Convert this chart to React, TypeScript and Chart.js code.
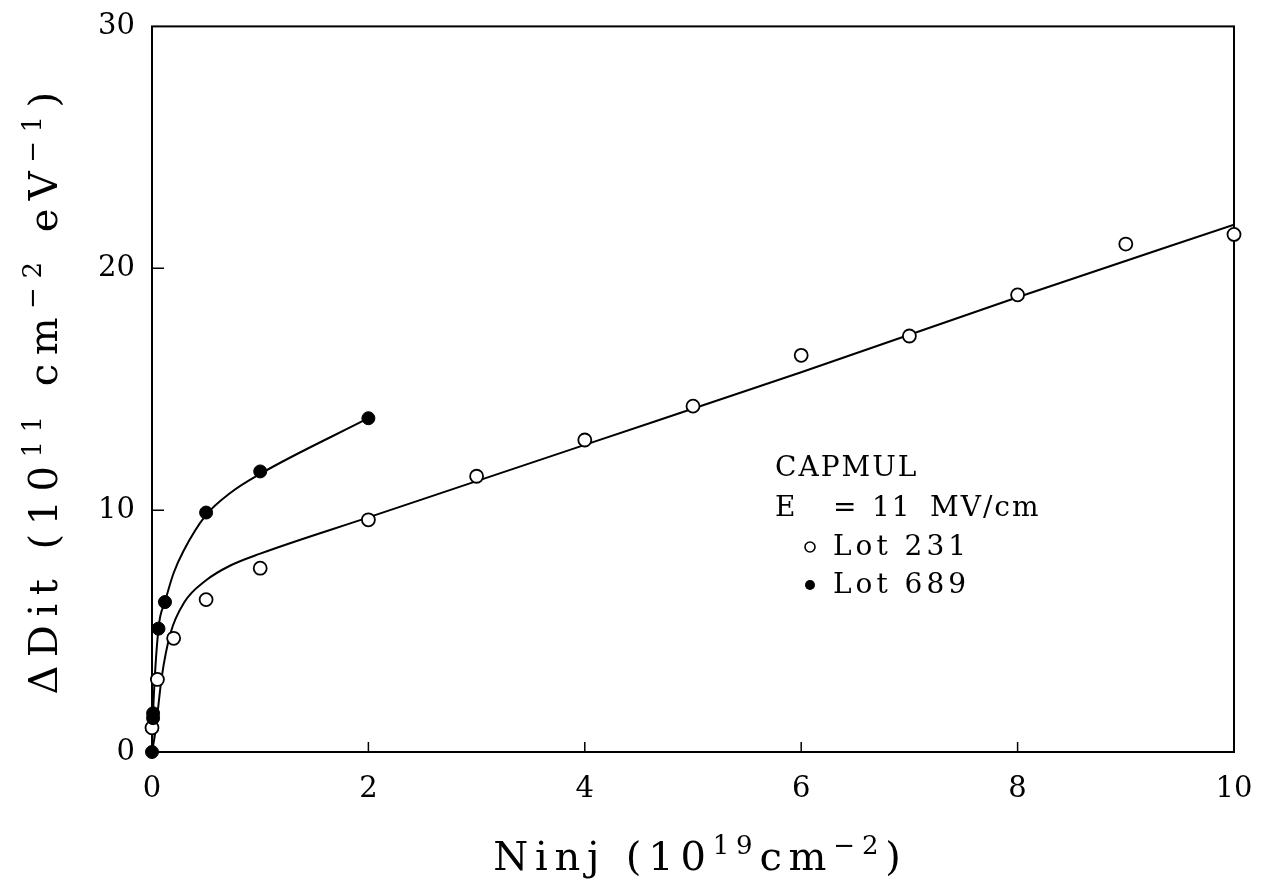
import React, { useEffect, useRef } from "react";
import { Chart, registerables } from "chart.js";

Chart.register(...registerables);

// ---- data ----
const lot231X = [0, 0.05, 0.2, 0.5, 1.0, 2, 3, 4, 5, 6, 7, 8, 9, 10];
const lot231Y = [1.0, 3.0, 4.7, 6.3, 7.6, 9.6, 11.4, 12.9, 14.3, 16.4, 17.2, 18.9, 21.0, 21.4];

const lot689X = [0, 0.01, 0.01, 0.06, 0.12, 0.5, 1.0, 2.0];
const lot689Y = [0, 1.4, 1.6, 5.1, 6.2, 9.9, 11.6, 13.8];

// fitted curves
const fit231X = [0, 0.03, 0.09, 0.17, 0.3, 0.5, 0.72, 1.0, 2.0, 4, 6, 8, 10];
const fit231Y = [0, 0.8, 3.1, 4.9, 6.2, 7.1, 7.7, 8.2, 9.7, 12.7, 15.7, 18.8, 21.8];

const fit689X = [0, 0.01, 0.06, 0.12, 0.2, 0.29, 0.5, 0.72, 1.0, 2.0];
const fit689Y = [0, 1.6, 5.1, 6.2, 7.4, 8.3, 9.8, 10.7, 11.5, 13.8];

const xTicks = [0, 2, 4, 6, 8, 10];
const yTicks = [0, 10, 20, 30];

const legendTitle = "CAPMUL";
const legendField = ["E", "=", "11", "MV/cm"];
const seriesNames = ["Lot 231", "Lot 689"];

const FONT = '"DejaVu Serif"';

const pts = (xs: number[], ys: number[]) => xs.map((x, i) => ({ x, y: ys[i] }));

type Seg = { t: string; size: number; rise: number };

function drawRich(
  ctx: CanvasRenderingContext2D,
  segs: Seg[],
  cx: number,
  cy: number,
  spacing: number,
  angle: number
) {
  ctx.save();
  ctx.translate(cx, cy);
  ctx.rotate(angle);
  ctx.fillStyle = "#000";
  ctx.textBaseline = "alphabetic";
  ctx.textAlign = "left";
  (ctx as any).letterSpacing = spacing + "px";
  const widths = segs.map((s) => {
    ctx.font = `${s.size}px ${FONT}`;
    return ctx.measureText(s.t).width;
  });
  const total = widths.reduce((a, b) => a + b, 0) - spacing;
  let x = -total / 2;
  segs.forEach((s, i) => {
    ctx.font = `${s.size}px ${FONT}`;
    ctx.fillText(s.t, x, -s.rise);
    x += widths[i];
  });
  ctx.restore();
}

const decorPlugin = {
  id: "decor",
  beforeDatasetsDraw(chart: any) {
    const { ctx, chartArea } = chart;
    const { left, right, top, bottom } = chartArea;
    const xs = chart.scales.x;
    const ys = chart.scales.y;
    ctx.save();
    ctx.strokeStyle = "#000";
    ctx.lineWidth = 2;
    ctx.strokeRect(left, top, right - left, bottom - top);
    ctx.lineWidth = 1.5;
    ctx.beginPath();
    yTicks.forEach((v) => {
      if (v === yTicks[0] || v === yTicks[yTicks.length - 1]) return;
      const py = ys.getPixelForValue(v);
      ctx.moveTo(left, py);
      ctx.lineTo(left + 12, py);
    });
    xTicks.forEach((v) => {
      if (v === xTicks[0] || v === xTicks[xTicks.length - 1]) return;
      const px = xs.getPixelForValue(v);
      ctx.moveTo(px, bottom);
      ctx.lineTo(px, bottom - 10);
    });
    ctx.stroke();
    ctx.restore();
  },
  afterDraw(chart: any) {
    const { ctx, chartArea } = chart;
    const { left, right, top, bottom } = chartArea;

    // x axis title
    drawRich(
      ctx,
      [
        { t: "Ninj (10", size: 40, rise: 0 },
        { t: "19", size: 26, rise: 16 },
        { t: "cm", size: 40, rise: 0 },
        { t: "\u22122", size: 26, rise: 16 },
        { t: ")", size: 40, rise: 0 },
      ],
      (left + right) / 2 + 4,
      870,
      6.8,
      0
    );

    // y axis title
    drawRich(
      ctx,
      [
        { t: "\u0394Dit (10", size: 40, rise: 0 },
        { t: "11", size: 26, rise: 16 },
        { t: " cm", size: 40, rise: 0 },
        { t: "\u22122", size: 26, rise: 16 },
        { t: " eV", size: 40, rise: 0 },
        { t: "\u22121", size: 26, rise: 16 },
        { t: ")", size: 40, rise: 0 },
      ],
      57,
      (top + bottom) / 2 + 4,
      8.5,
      -Math.PI / 2
    );

    // legend block
    ctx.save();
    ctx.fillStyle = "#000";
    ctx.textBaseline = "alphabetic";
    ctx.textAlign = "left";
    ctx.font = `28px ${FONT}`;
    (ctx as any).letterSpacing = "2px";
    ctx.fillText(legendTitle, 775, 476);
    const fx = [775, 833, 872, 930];
    legendField.forEach((t, i) => ctx.fillText(t, fx[i], 516));
    (ctx as any).letterSpacing = "4px";
    ctx.fillText(seriesNames[0], 833, 555);
    ctx.fillText(seriesNames[1], 833, 593);
    // markers
    ctx.lineWidth = 1.6;
    ctx.strokeStyle = "#000";
    ctx.beginPath();
    ctx.arc(810, 547, 5, 0, Math.PI * 2);
    ctx.fillStyle = "#fff";
    ctx.fill();
    ctx.stroke();
    ctx.beginPath();
    ctx.arc(810, 585, 5, 0, Math.PI * 2);
    ctx.fillStyle = "#000";
    ctx.fill();
    ctx.restore();
  },
};

export default function App() {
  const ref = useRef<HTMLCanvasElement | null>(null);

  useEffect(() => {
    document.body.style.margin = "0";
    const canvas = ref.current;
    if (!canvas) return;
    const chart = new Chart(canvas, {
      type: "scatter",
      data: {
        datasets: [
          {
            label: seriesNames[1],
            data: pts(lot689X, lot689Y),
            pointRadius: 6.5,
            pointBackgroundColor: "#000",
            pointBorderColor: "#000",
            pointBorderWidth: 1,
            clip: false,
          } as any,
          {
            label: seriesNames[0],
            data: pts(lot231X, lot231Y),
            pointRadius: 6.5,
            pointBackgroundColor: "#fff",
            pointBorderColor: "#000",
            pointBorderWidth: 1.8,
            clip: false,
          } as any,
          {
            type: "line",
            label: "fit 689",
            data: pts(fit689X, fit689Y),
            borderColor: "#000",
            borderWidth: 2,
            pointRadius: 0,
            fill: false,
            cubicInterpolationMode: "monotone",
          } as any,
          {
            type: "line",
            label: "fit 231",
            data: pts(fit231X, fit231Y),
            borderColor: "#000",
            borderWidth: 2,
            pointRadius: 0,
            fill: false,
            cubicInterpolationMode: "monotone",
          } as any,
        ],
      },
      options: {
        animation: false,
        responsive: false,
        devicePixelRatio: 1,
        events: [],
        layout: { padding: { top: 15, right: 32, left: 0, bottom: 0 } },
        plugins: {
          legend: { display: false },
          tooltip: { enabled: false },
          title: { display: false },
        },
        scales: {
          x: {
            type: "linear",
            min: 0,
            max: 10,
            afterBuildTicks: (s: any) => {
              s.ticks = xTicks.map((v) => ({ value: v }));
            },
            afterFit: (s: any) => {
              s.height = 132;
            },
            grid: { display: false },
            border: { display: false },
            ticks: {
              color: "#000",
              padding: 12,
              maxRotation: 0,
              font: { family: FONT, size: 29 },
            },
          },
          y: {
            type: "linear",
            min: 0,
            max: 30,
            afterBuildTicks: (s: any) => {
              s.ticks = yTicks.map((v) => ({ value: v }));
            },
            afterFit: (s: any) => {
              s.width = 152;
            },
            grid: { display: false },
            border: { display: false },
            ticks: {
              color: "#000",
              padding: 9,
              font: { family: FONT, size: 29 },
            },
          },
        },
      } as any,
      plugins: [decorPlugin],
    });
    return () => chart.destroy();
  }, []);

  return (
    <div style={{ position: "absolute", left: 0, top: 0, width: 1266, height: 884, background: "#fff" }}>
      <canvas ref={ref} width={1266} height={884} style={{ display: "block" }} />
    </div>
  );
}
